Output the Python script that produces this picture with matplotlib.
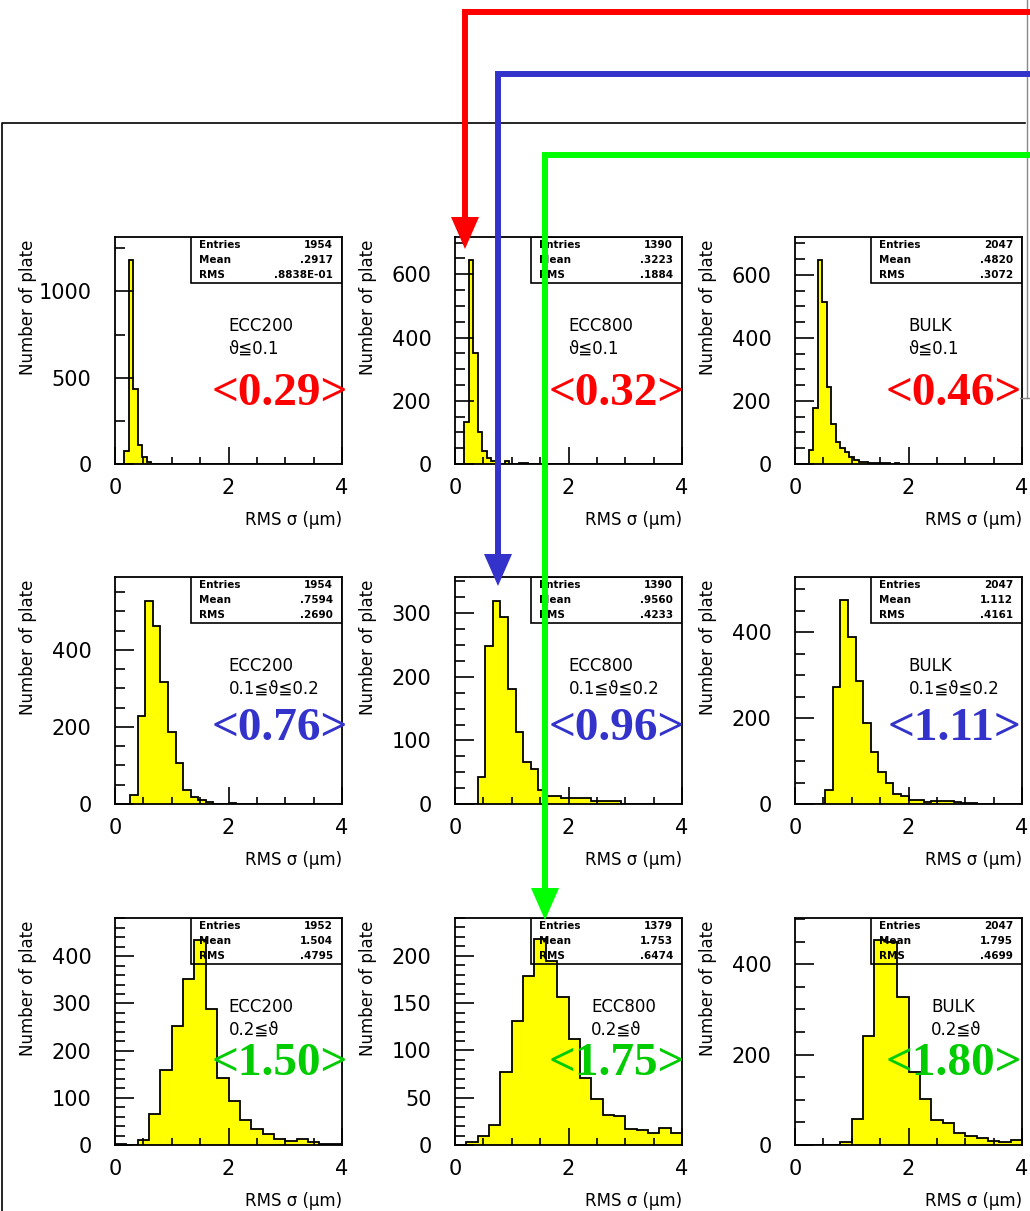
import numpy as np
import matplotlib
matplotlib.use('Agg')
import matplotlib.pyplot as plt
from matplotlib.patches import Rectangle, Polygon
from matplotlib.ticker import MultipleLocator

plt.rcParams['font.family'] = ['DejaVu Sans', 'Noto Sans CJK JP']

# histogram contents, counts per bin starting at 0 (x range 0-4)
ecc200_lo = [0, 0, 77, 1180, 435, 112, 39, 10]
ecc800_lo = [0, 0, 132, 644, 351, 102, 42, 19, 10, 5, 0, 8, 0, 0, 3, 3]
bulk_lo = [0, 0, 0, 45, 179, 648, 513, 245, 126, 71, 50, 39, 23, 13, 7, 5, 4, 3, 2, 3, 2, 1, 2, 1, 1]

ecc200_mid = [0, 0, 23, 229, 528, 463, 316, 186, 106, 36, 17, 10, 6, 0, 0, 2]
ecc800_mid = [0, 0, 0, 43, 248, 320, 294, 181, 113, 66, 55, 22, 13, 12, 9, 9, 9, 9, 4, 5, 4, 4]
bulk_mid = [0, 0, 0, 0, 33, 272, 474, 388, 286, 188, 120, 74, 48, 23, 19, 9, 9, 4, 6, 6, 6, 4, 2, 2]

ecc200_hi = [3, 0, 10, 65, 159, 253, 352, 435, 289, 141, 93, 52, 33, 23, 12, 8, 12, 6, 2, 2]
ecc800_hi = [0, 3, 9, 21, 77, 131, 179, 218, 195, 157, 112, 71, 49, 32, 31, 17, 16, 13, 18, 13]
bulk_hi = [0, 0, 0, 0, 7, 57, 241, 453, 450, 327, 162, 101, 55, 48, 27, 20, 15, 9, 7, 11]

samples = ['ECC200', 'ECC800', 'BULK']
cuts = ['ϑ≦0.1', '0.1≦ϑ≦0.2', '0.2≦ϑ']
n_bins = [50, 30, 20]
counts = [[ecc200_lo, ecc800_lo, bulk_lo],
          [ecc200_mid, ecc800_mid, bulk_mid],
          [ecc200_hi, ecc800_hi, bulk_hi]]

entries = [[1954, 1390, 2047], [1954, 1390, 2047], [1952, 1379, 2047]]
mean_txt = [['.2917', '.3223', '.4820'], ['.7594', '.9560', '1.112'], ['1.504', '1.753', '1.795']]
rms_txt = [['.8838E-01', '.1884', '.3072'], ['.2690', '.4233', '.4161'], ['.4795', '.6474', '.4699']]
mean_labels = [['<0.29>', '<0.32>', '<0.46>'],
               ['<0.76>', '<0.96>', '<1.11>'],
               ['<1.50>', '<1.75>', '<1.80>']]

ymax = [[1315, 718, 720], [589, 357, 528], [481, 240, 502]]
ymajor = [[500, 200, 200], [200, 100, 200], [100, 50, 200]]
yminor = [[250, 50, 50], [50, 25, 50], [20, 10, 50]]

label_colors = ['#ff0000', '#3333cc', '#00cc00']
arrow_colors = ['#ff0000', '#3333cc', '#00ff00']

W, H = 1030, 1211
fig = plt.figure(figsize=(W / 100, H / 100), dpi=100)

col_left = [115, 455, 795]
row_top = [237, 577, 918]
aw, ah = 227, 227
label_x = [1.026, 1.013, 1.0]
label_y = [0.26, 0.28, 0.31]

for r in range(3):
    edges = np.linspace(0, 4, n_bins[r] + 1)
    for c in range(3):
        vals = np.zeros(n_bins[r])
        vals[:len(counts[r][c])] = counts[r][c]
        ax = fig.add_axes([col_left[c] / W, 1 - (row_top[r] + ah) / H, aw / W, ah / H])
        ax.stairs(vals, edges, fill=True, color='#ffff00', zorder=1)
        ax.stairs(vals, edges, color='black', lw=1.3, zorder=1.2)
        ax.set_xlim(0, 4)
        ax.set_ylim(0, ymax[r][c])
        ax.set_axisbelow(False)
        for s in ax.spines.values():
            s.set_linewidth(1.3)
        ax.xaxis.set_major_locator(MultipleLocator(2))
        ax.xaxis.set_minor_locator(MultipleLocator(0.5))
        ax.yaxis.set_major_locator(MultipleLocator(ymajor[r][c]))
        ax.yaxis.set_minor_locator(MultipleLocator(yminor[r][c]))
        ax.tick_params(axis='x', which='major', direction='in', length=12, width=1.2,
                       labelsize=15, pad=10)
        ax.tick_params(axis='x', which='minor', direction='in', length=5, width=1.2)
        ax.tick_params(axis='y', which='major', direction='in', length=14, width=1.2,
                       labelsize=15, pad=17)
        ax.tick_params(axis='y', which='minor', direction='in', length=7, width=1.2)
        ax.set_xticklabels([f'{int(v)}' for v in ax.get_xticks()])

        ax.set_ylabel('Number of plate', fontsize=12, loc='top')
        ax.yaxis.set_label_coords(-0.345, 0.99)
        ax.set_xlabel('RMS σ (μm)', fontsize=12, loc='right')
        ax.xaxis.set_label_coords(1.0, -0.205)

        # stats box
        ax.add_patch(Rectangle((0.335, 0.797), 0.665, 0.203, transform=ax.transAxes,
                               fill=False, lw=1.2, ec='black', zorder=3))
        for yy, name, val in zip([0.965, 0.899, 0.833], ['Entries', 'Mean', 'RMS'],
                                 [str(entries[r][c]), mean_txt[r][c], rms_txt[r][c]]):
            ax.text(0.37, yy, name, transform=ax.transAxes, fontsize=7.5,
                    fontweight='bold', va='center', ha='left', zorder=4)
            ax.text(0.96, yy, val, transform=ax.transAxes, fontsize=7.5,
                    fontweight='bold', va='center', ha='right', zorder=4)

        tx = 0.6 if (r == 2 and c > 0) else 0.5
        ax.text(tx, 0.61, samples[c], transform=ax.transAxes, fontsize=12, va='center')
        ax.text(tx, 0.51, cuts[r], transform=ax.transAxes, fontsize=12, va='center')
        ax.text(label_x[c], label_y[r], mean_labels[r][c], transform=ax.transAxes,
                family='Liberation Serif', fontweight='bold', fontsize=34,
                color=label_colors[r], ha='right', va='baseline', clip_on=False, zorder=5)

# overlay: outer frame and arrows
ov = fig.add_axes([0, 0, 1, 1], zorder=10)
ov.set_xlim(0, W)
ov.set_ylim(H, 0)
ov.axis('off')
ov.plot([1.5, 1.5, 1025], [H, 123, 123], color='black', lw=1.2)
ov.plot([1027, 1027], [0, 398], color='#888888', lw=1)
ov.plot([1020, 1030], [398, 398], color='#888888', lw=1)

arrow_x = [465, 498, 545]
arrow_y = [12, 74, 155]
arrow_tip = [249, 586, 920]
for i in range(3):
    col = arrow_colors[i]
    ov.plot([W, arrow_x[i], arrow_x[i]], [arrow_y[i], arrow_y[i], arrow_tip[i] - 28],
            color=col, lw=4.3, solid_joinstyle='miter')
    ov.add_patch(Polygon([[arrow_x[i] - 14, arrow_tip[i] - 32], [arrow_x[i] + 14, arrow_tip[i] - 32],
                          [arrow_x[i], arrow_tip[i]]], closed=True, color=col, lw=0))

fig.savefig('out.png', dpi=100)
